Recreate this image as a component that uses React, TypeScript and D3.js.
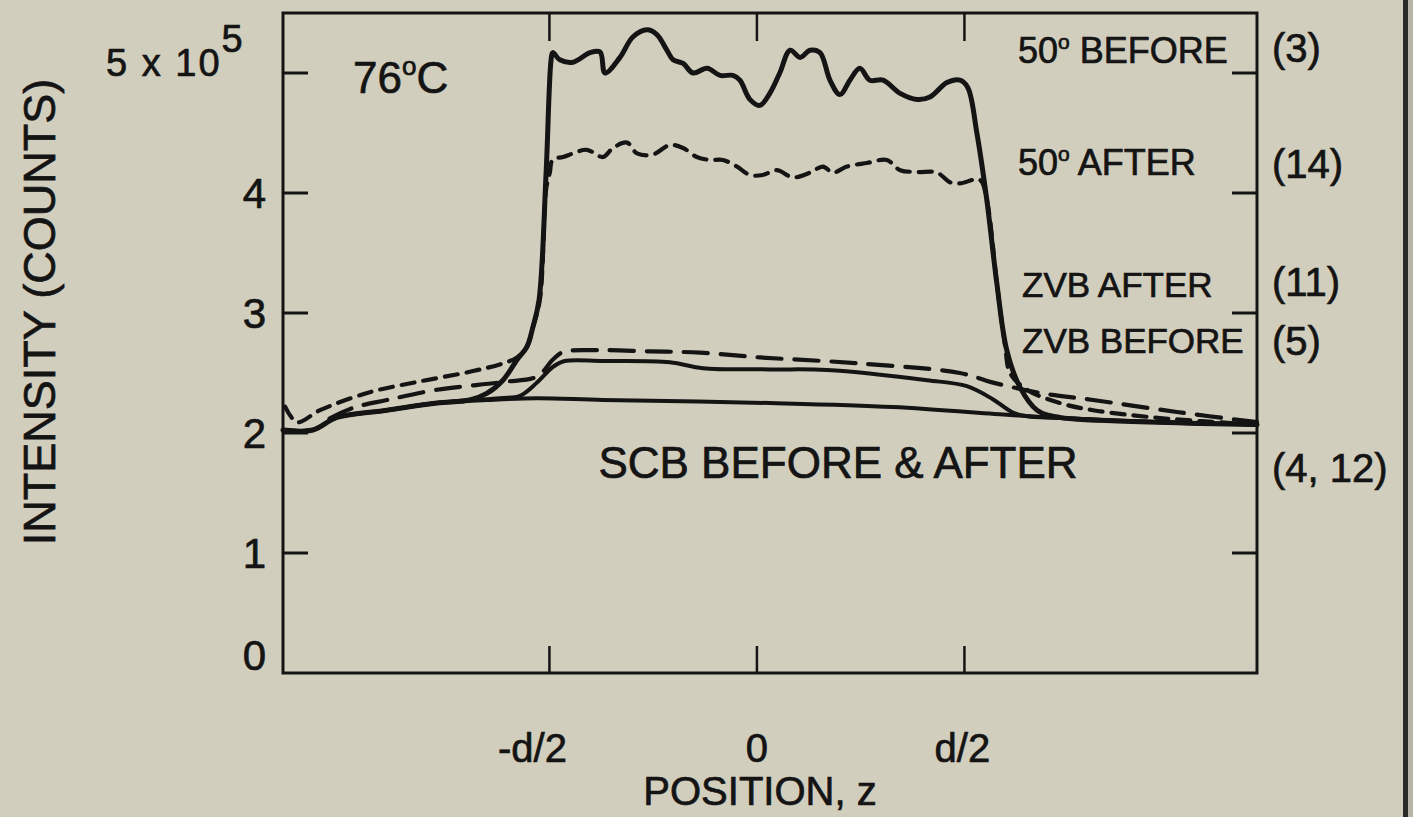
import React from 'react';
import * as d3 from 'd3';

// position z in units of d, intensity in units of 1e5 counts
const xTicks = [-0.5, 0, 0.5];
const xTickLabels = ['-d/2', '0', 'd/2'];
const yTicks = [0, 1, 2, 3, 4, 5];

const before50: [number, number][] = [
  [-1.142, 2.025], [-1.07, 2.025], [-1.012, 2.13], [-0.892, 2.19], [-0.771, 2.25], [-0.692, 2.275],
  [-0.651, 2.33], [-0.612, 2.44], [-0.578, 2.61], [-0.554, 2.72], [-0.54, 2.88], [-0.525, 3.11],
  [-0.508, 4.17], [-0.496, 5.11], [-0.492, 5.17], [-0.475, 5.11], [-0.443, 5.09], [-0.402, 5.17],
  [-0.378, 5.175], [-0.366, 5.0], [-0.33, 5.13], [-0.299, 5.3], [-0.265, 5.36], [-0.241, 5.32],
  [-0.217, 5.19], [-0.202, 5.11], [-0.178, 5.08], [-0.154, 5.0], [-0.12, 5.04], [-0.089, 4.98],
  [-0.058, 4.98], [-0.041, 4.94], [-0.017, 4.78], [0.007, 4.73], [0.031, 4.83], [0.055, 5.0],
  [0.08, 5.19], [0.104, 5.13], [0.128, 5.19], [0.152, 5.17], [0.176, 4.94], [0.2, 4.82],
  [0.224, 4.94], [0.248, 5.04], [0.272, 4.94], [0.304, 4.94], [0.345, 4.83], [0.386, 4.78],
  [0.417, 4.8], [0.458, 4.92], [0.489, 4.94], [0.508, 4.88], [0.53, 4.5], [0.554, 3.94],
  [0.578, 3.25], [0.602, 2.69], [0.634, 2.38], [0.675, 2.19], [0.73, 2.13], [0.971, 2.09], [1.205, 2.07],
];

const after50: [number, number][] = [
  [-1.137, 2.22], [-1.108, 2.09], [-1.053, 2.19], [-0.933, 2.34], [-0.812, 2.43], [-0.692, 2.51],
  [-0.612, 2.58], [-0.578, 2.63], [-0.554, 2.72], [-0.54, 2.88], [-0.523, 3.11], [-0.508, 4.03],
  [-0.499, 4.17], [-0.492, 4.28], [-0.467, 4.3], [-0.443, 4.33], [-0.41, 4.36], [-0.371, 4.3],
  [-0.347, 4.375], [-0.313, 4.42], [-0.289, 4.33], [-0.251, 4.32], [-0.21, 4.4], [-0.178, 4.375],
  [-0.145, 4.3], [-0.113, 4.275], [-0.082, 4.275], [-0.048, 4.22], [-0.017, 4.15], [0.014, 4.15],
  [0.048, 4.19], [0.087, 4.13], [0.128, 4.17], [0.159, 4.22], [0.183, 4.17], [0.217, 4.22],
  [0.265, 4.25], [0.313, 4.275], [0.345, 4.19], [0.386, 4.175], [0.434, 4.17], [0.465, 4.09],
  [0.489, 4.08], [0.537, 4.11], [0.554, 3.94], [0.578, 3.25], [0.598, 2.73], [0.61, 2.5],
  [0.651, 2.36], [0.73, 2.25], [0.81, 2.19], [0.971, 2.125], [1.205, 2.07],
];

const zvbAfter: [number, number][] = [
  [-1.03, 2.12], [-0.973, 2.21], [-0.892, 2.275], [-0.771, 2.36], [-0.612, 2.425], [-0.53, 2.47],
  [-0.492, 2.61], [-0.467, 2.675], [-0.378, 2.69], [-0.258, 2.68], [-0.137, 2.67], [0.007, 2.63],
  [0.248, 2.58], [0.489, 2.5], [0.569, 2.42], [0.689, 2.33], [0.81, 2.275], [1.012, 2.175], [1.205, 2.09],
];

const zvbBefore: [number, number][] = [
  [-1.142, 2.025], [-1.07, 2.025], [-1.012, 2.13], [-0.892, 2.19], [-0.771, 2.25], [-0.619, 2.29],
  [-0.571, 2.31], [-0.53, 2.42], [-0.492, 2.55], [-0.463, 2.6], [-0.371, 2.6], [-0.21, 2.59],
  [-0.13, 2.54], [0.031, 2.53], [0.169, 2.525], [0.41, 2.44], [0.506, 2.39], [0.569, 2.28],
  [0.617, 2.17], [0.651, 2.14], [0.73, 2.125], [0.971, 2.09], [1.205, 2.07],
];

const scb: [number, number][] = [
  [-1.142, 2.025], [-1.07, 2.025], [-1.012, 2.13], [-0.892, 2.19], [-0.771, 2.25], [-0.651, 2.275],
  [-0.53, 2.29], [-0.371, 2.275], [0.031, 2.25], [0.328, 2.217], [0.61, 2.15], [0.73, 2.125],
  [0.971, 2.09], [1.205, 2.07],
];

const W = 1413;
const H = 817;
const left = 283, right = 1257, top = 13, bottom = 673;
const ink = '#141414';
const bg = '#d2cebd';
const font = "'Liberation Sans', Arial, Helvetica, sans-serif";

function App() {
  const x = d3.scaleLinear().domain([-1.142, 1.205]).range([left, right]);
  const y = d3.scaleLinear().domain([0, 5.5]).range([bottom, top]);
  const line = d3.line<[number, number]>()
    .x(d => x(d[0]))
    .y(d => y(d[1]))
    .curve(d3.curveCatmullRom.alpha(0.5));

  return (
    <svg width={W} height={H} style={{ position: 'fixed', left: 0, top: 0, display: 'block' }}
      fontFamily={font}>
      <rect width={W} height={H} fill={bg} />
      <rect x={1403} y={0} width={5} height={H} fill="#2b2a26" />
      <rect x={1408} y={0} width={5} height={H} fill="#b9b5a6" />

      {/* frame */}
      <rect x={left} y={top} width={right - left} height={bottom - top} fill="none" stroke={ink} strokeWidth={3} />

      {/* y ticks, both sides, inward */}
      {yTicks.filter(t => t > 0).map(t => (
        <g key={'yt' + t} stroke={ink} strokeWidth={3}>
          <line x1={left} x2={left + 25} y1={y(t)} y2={y(t)} />
          <line x1={right - 25} x2={right} y1={y(t)} y2={y(t)} />
        </g>
      ))}

      {/* x ticks, top and bottom, inward */}
      {xTicks.map((t, i) => (
        <g key={'xt' + i} stroke={ink} strokeWidth={2.5}>
          <line x1={x(t)} x2={x(t)} y1={top} y2={top + 28} />
          <line x1={x(t)} x2={x(t)} y1={bottom} y2={bottom - 27} />
        </g>
      ))}

      {/* curves */}
      <g fill="none" stroke={ink} strokeLinejoin="round" strokeLinecap="round">
        <path d={line(scb) || ''} strokeWidth={4} />
        <path d={line(zvbBefore) || ''} strokeWidth={4} />
        <path d={line(zvbAfter) || ''} strokeWidth={4.2} strokeDasharray="24 13" />
        <path d={line(before50) || ''} strokeWidth={5} />
        <path d={line(after50) || ''} strokeWidth={4.2} strokeDasharray="13 9" />
      </g>

      {/* all text */}
      <g fill={ink} stroke={ink} strokeWidth={0.7}>
        {yTicks.filter(t => t < 5).map(t => (
          <text key={'yl' + t} x={266} y={Math.min(y(t) + 15, bottom - 3)} fontSize={42} textAnchor="end">{t}</text>
        ))}
        <text x={106} y={76} fontSize={38} letterSpacing={2}>5 x 10<tspan dy={-24}>5</tspan></text>

        {xTicks.map((t, i) => (
          <text key={'xl' + i} x={x(t) + [-17, 0, -2][i]} y={762} fontSize={40} textAnchor="middle">{xTickLabels[i]}</text>
        ))}

        <text x={760} y={805} fontSize={40} textAnchor="middle">POSITION, z</text>
        <text transform="translate(55,312) rotate(-90)" fontSize={45} textAnchor="middle">INTENSITY (COUNTS)</text>

        <text x={353} y={93} fontSize={44}>76<tspan fontSize={26} dy={-18}>o</tspan><tspan dy={18}>C</tspan></text>
        <text x={1018} y={63} fontSize={36}>50<tspan fontSize={21} dy={-14}>o</tspan><tspan dy={14}> BEFORE</tspan></text>
        <text x={1018} y={175} fontSize={36}>50<tspan fontSize={21} dy={-14}>o</tspan><tspan dy={14}> AFTER</tspan></text>
        <text x={1022} y={297} fontSize={35}>ZVB AFTER</text>
        <text x={1022} y={353} fontSize={35}>ZVB BEFORE</text>
        <text x={838} y={478} fontSize={44} textAnchor="middle">SCB BEFORE &amp; AFTER</text>

        <g fontSize={40}>
          <text x={1272} y={62}>(3)</text>
          <text x={1272} y={178}>(14)</text>
          <text x={1272} y={296}>(11)</text>
          <text x={1272} y={355}>(5)</text>
          <text x={1272} y={482}>(4, 12)</text>
        </g>
      </g>
    </svg>
  );
}

export default App;
